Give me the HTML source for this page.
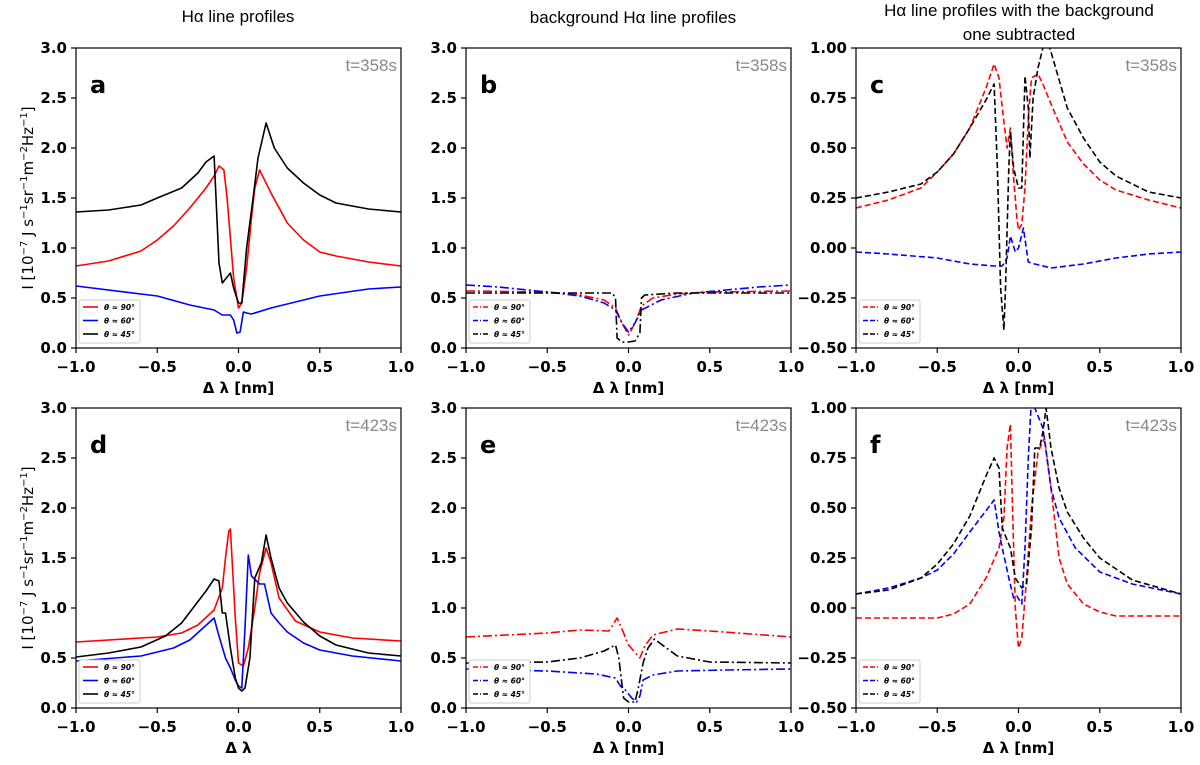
<!DOCTYPE html>
<html><head><meta charset="utf-8">
<style>
body{margin:0;background:#fff;}
svg text{font-family:"DejaVu Sans","Liberation Sans",sans-serif;}
</style></head>
<body>
<svg id="fig" width="1200" height="760" viewBox="0 0 1200 760" xmlns="http://www.w3.org/2000/svg">
<text x="238" y="22" text-anchor="middle" font-size="17" style="font-family:'Liberation Sans',sans-serif">Hα line profiles</text>
<text x="633" y="23" text-anchor="middle" font-size="17" style="font-family:'Liberation Sans',sans-serif">background Hα line profiles</text>
<text x="1019" y="16" text-anchor="middle" font-size="17" style="font-family:'Liberation Sans',sans-serif">Hα line profiles with the background</text>
<text x="1019" y="40" text-anchor="middle" font-size="17" style="font-family:'Liberation Sans',sans-serif">one subtracted</text>
</svg>
<script>
// ---- data: panel a ----
const aRedX=[-1,-0.8,-0.6,-0.5,-0.4,-0.3,-0.2,-0.15,-0.12,-0.09,-0.07,-0.05,-0.03,0,0.02,0.05,0.08,0.1,0.13,0.2,0.3,0.4,0.5,0.6,0.8,1];
const aRedY=[0.82,0.87,0.97,1.08,1.22,1.4,1.6,1.72,1.82,1.78,1.5,1.1,0.7,0.4,0.45,0.8,1.3,1.6,1.78,1.55,1.25,1.08,0.96,0.92,0.86,0.82];
const aBluX=[-1,-0.5,-0.3,-0.15,-0.1,-0.05,-0.03,-0.01,0.01,0.03,0.05,0.08,0.2,0.5,0.8,1];
const aBluY=[0.62,0.52,0.43,0.38,0.33,0.33,0.28,0.15,0.16,0.36,0.35,0.34,0.4,0.52,0.59,0.61];
const aBlkX=[-1,-0.8,-0.6,-0.5,-0.35,-0.25,-0.2,-0.15,-0.12,-0.1,-0.05,-0.03,0,0.02,0.05,0.09,0.12,0.17,0.22,0.3,0.4,0.5,0.6,0.8,1];
const aBlkY=[1.36,1.38,1.43,1.5,1.6,1.75,1.86,1.92,0.85,0.65,0.75,0.6,0.45,0.45,1.0,1.5,1.9,2.25,2.0,1.8,1.65,1.53,1.45,1.39,1.36];
// ---- panel b ----
const bRedX=[-1,-0.5,-0.3,-0.15,-0.08,-0.04,0,0.04,0.08,0.15,0.3,0.5,1];
const bRedY=[0.57,0.56,0.53,0.48,0.4,0.25,0.13,0.25,0.42,0.5,0.54,0.56,0.57];
const bBluX=[-1,-0.8,-0.5,-0.3,-0.15,-0.08,-0.04,0,0.04,0.08,0.2,0.4,0.6,0.8,1];
const bBluY=[0.63,0.61,0.56,0.52,0.45,0.38,0.25,0.16,0.25,0.38,0.48,0.55,0.58,0.61,0.63];
const bBlkX=[-1,-0.5,-0.1,-0.08,-0.07,-0.04,0,0.04,0.07,0.08,0.1,0.3,1];
const bBlkY=[0.55,0.55,0.55,0.5,0.1,0.06,0.06,0.07,0.15,0.5,0.53,0.55,0.55];
// ---- panel c ----
const cRedX=[-1,-0.8,-0.6,-0.5,-0.4,-0.3,-0.2,-0.15,-0.12,-0.1,-0.07,-0.05,-0.03,-0.01,0,0.02,0.04,0.06,0.08,0.12,0.15,0.2,0.3,0.4,0.5,0.6,0.8,1];
const cRedY=[0.2,0.24,0.3,0.38,0.47,0.6,0.8,0.92,0.85,0.7,0.5,0.6,0.35,0.15,0.09,0.12,0.3,0.65,0.85,0.87,0.82,0.72,0.53,0.42,0.34,0.29,0.24,0.2];
const cBluX=[-1,-0.8,-0.5,-0.3,-0.15,-0.1,-0.07,-0.05,-0.02,0,0.03,0.06,0.1,0.2,0.4,0.6,0.8,1];
const cBluY=[-0.02,-0.03,-0.05,-0.08,-0.09,-0.09,-0.05,0.06,-0.02,0,0.1,-0.07,-0.08,-0.1,-0.08,-0.05,-0.03,-0.02];
const cBlkX=[-1,-0.8,-0.6,-0.5,-0.4,-0.3,-0.2,-0.15,-0.13,-0.11,-0.09,-0.08,-0.06,-0.05,-0.03,0,0.02,0.04,0.06,0.07,0.09,0.12,0.15,0.18,0.2,0.3,0.4,0.5,0.6,0.8,1];
const cBlkY=[0.25,0.28,0.32,0.38,0.47,0.6,0.74,0.82,0.4,-0.2,-0.41,-0.2,0.4,0.58,0.4,0.3,0.3,0.86,0.7,0.45,0.75,0.9,1.0,1.02,0.98,0.7,0.55,0.43,0.36,0.28,0.25];
// ---- panel d ----
const dRedX=[-1,-0.5,-0.35,-0.25,-0.15,-0.1,-0.08,-0.06,-0.05,-0.04,-0.02,0,0.03,0.06,0.1,0.13,0.17,0.2,0.25,0.35,0.5,0.7,1];
const dRedY=[0.66,0.71,0.75,0.83,0.98,1.2,1.5,1.77,1.79,1.5,0.9,0.45,0.42,0.6,1.0,1.35,1.6,1.45,1.1,0.87,0.76,0.7,0.67];
const dBluX=[-1,-0.6,-0.4,-0.3,-0.15,-0.12,-0.08,-0.05,-0.02,0,0.02,0.04,0.06,0.08,0.13,0.16,0.2,0.25,0.3,0.4,0.5,0.7,1];
const dBluY=[0.47,0.52,0.6,0.68,0.9,0.72,0.5,0.4,0.28,0.22,0.2,0.8,1.53,1.32,1.24,1.24,0.95,0.85,0.76,0.65,0.58,0.52,0.47];
const dBlkX=[-1,-0.8,-0.6,-0.45,-0.35,-0.2,-0.15,-0.12,-0.1,-0.08,-0.05,-0.02,0,0.02,0.04,0.07,0.1,0.14,0.17,0.2,0.25,0.3,0.4,0.5,0.6,0.8,1];
const dBlkY=[0.51,0.55,0.61,0.72,0.85,1.17,1.29,1.27,0.95,0.95,0.6,0.3,0.2,0.17,0.2,0.5,1.3,1.45,1.73,1.5,1.2,1.05,0.86,0.72,0.63,0.55,0.52];
// ---- panel e ----
const eRedX=[-1,-0.5,-0.3,-0.12,-0.07,-0.03,0,0.07,0.1,0.15,0.3,0.5,1];
const eRedY=[0.71,0.75,0.78,0.77,0.9,0.75,0.63,0.5,0.62,0.73,0.79,0.77,0.71];
const eBluX=[-1,-0.5,-0.2,-0.08,-0.05,-0.02,0.02,0.05,0.07,0.09,0.15,0.3,0.6,1];
const eBluY=[0.39,0.37,0.34,0.3,0.22,0.18,0.1,0.06,0.12,0.28,0.33,0.37,0.38,0.39];
const eBlkX=[-1,-0.5,-0.3,-0.15,-0.08,-0.06,-0.03,0,0.04,0.06,0.09,0.12,0.16,0.2,0.3,0.5,1];
const eBlkY=[0.45,0.46,0.5,0.57,0.63,0.5,0.1,0.06,0.06,0.2,0.45,0.6,0.69,0.64,0.52,0.46,0.45];
// ---- panel f ----
const fRedX=[-1,-0.5,-0.4,-0.3,-0.2,-0.12,-0.09,-0.07,-0.05,-0.04,-0.02,0,0.02,0.05,0.08,0.12,0.16,0.2,0.25,0.3,0.4,0.5,0.6,1];
const fRedY=[-0.05,-0.05,-0.03,0.02,0.15,0.3,0.45,0.8,0.92,0.6,0.0,-0.2,-0.15,0.15,0.5,0.78,0.85,0.6,0.25,0.12,0.02,-0.02,-0.04,-0.04];
const fBluX=[-1,-0.8,-0.6,-0.5,-0.4,-0.3,-0.15,-0.12,-0.1,-0.06,-0.03,-0.01,0.02,0.04,0.06,0.08,0.1,0.15,0.2,0.25,0.35,0.5,0.7,1];
const fBluY=[0.07,0.1,0.15,0.19,0.27,0.38,0.54,0.38,0.3,0.15,0.05,0.06,0.02,0.3,0.75,1.05,1.0,0.9,0.6,0.45,0.3,0.18,0.12,0.07];
const fBlkX=[-1,-0.8,-0.6,-0.5,-0.4,-0.3,-0.2,-0.15,-0.12,-0.1,-0.08,-0.05,-0.02,0.02,0.05,0.08,0.1,0.13,0.15,0.17,0.2,0.25,0.3,0.4,0.5,0.7,1];
const fBlkY=[0.07,0.09,0.15,0.22,0.32,0.46,0.66,0.75,0.7,0.4,0.36,0.3,0.15,0.1,0.12,0.4,0.8,0.8,0.88,1.0,0.8,0.6,0.48,0.35,0.25,0.14,0.07];

const xTicks=[-1,-0.5,0,0.5,1];
const xTickLabels=["−1.0","−0.5","0.0","0.5","1.0"];
const yTicksI=[0,0.5,1,1.5,2,2.5,3];
const yTickLabelsI=["0.0","0.5","1.0","1.5","2.0","2.5","3.0"];
const yTicksS=[-0.5,-0.25,0,0.25,0.5,0.75,1];
const yTickLabelsS=["−0.50","−0.25","0.00","0.25","0.50","0.75","1.00"];
const legendLabels=["θ ≈ 90°","θ ≈ 60°","θ ≈ 45°"];

const NS="http://www.w3.org/2000/svg";
const svg=document.getElementById('fig');
function mk(tag,attrs,parent){const e=document.createElementNS(NS,tag);for(const k in attrs)e.setAttribute(k,attrs[k]);(parent||svg).appendChild(e);return e;}

const panels=[
 {id:'a',L:76,T:48,ymin:0,ymax:3,yt:yTicksI,yl:yTickLabelsI,time:'t=358s',dash:null,xlab:'Δ λ [nm]',ylab:true,
  series:[[aRedX,aRedY,'#ff0000'],[aBluX,aBluY,'#0000ff'],[aBlkX,aBlkY,'#000000']]},
 {id:'b',L:466,T:48,ymin:0,ymax:3,yt:yTicksI,yl:yTickLabelsI,time:'t=358s',dash:'9,3,2,3',xlab:'Δ λ [nm]',ylab:false,
  series:[[bRedX,bRedY,'#ff0000'],[bBluX,bBluY,'#0000ff'],[bBlkX,bBlkY,'#000000']]},
 {id:'c',L:856,T:48,ymin:-0.5,ymax:1,yt:yTicksS,yl:yTickLabelsS,time:'t=358s',dash:'6,3',xlab:'Δ λ [nm]',ylab:false,
  series:[[cRedX,cRedY,'#ff0000'],[cBluX,cBluY,'#0000ff'],[cBlkX,cBlkY,'#000000']]},
 {id:'d',L:76,T:408,ymin:0,ymax:3,yt:yTicksI,yl:yTickLabelsI,time:'t=423s',dash:null,xlab:'Δ λ',ylab:true,
  series:[[dRedX,dRedY,'#ff0000'],[dBluX,dBluY,'#0000ff'],[dBlkX,dBlkY,'#000000']]},
 {id:'e',L:466,T:408,ymin:0,ymax:3,yt:yTicksI,yl:yTickLabelsI,time:'t=423s',dash:'9,3,2,3',xlab:'Δ λ [nm]',ylab:false,
  series:[[eRedX,eRedY,'#ff0000'],[eBluX,eBluY,'#0000ff'],[eBlkX,eBlkY,'#000000']]},
 {id:'f',L:856,T:408,ymin:-0.5,ymax:1,yt:yTicksS,yl:yTickLabelsS,time:'t=423s',dash:'6,3',xlab:'Δ λ [nm]',ylab:false,
  series:[[fRedX,fRedY,'#ff0000'],[fBluX,fBluY,'#0000ff'],[fBlkX,fBlkY,'#000000']]}
];
const W=325,H=300;
const seriesNames=['theta-90','theta-60','theta-45'];
const defs=mk('defs',{});
panels.forEach(p=>{
  const g=mk('g',{});
  
  
  const sx=v=>p.L+(v+1)/2*W;
  const sy=v=>p.T+H-(v-p.ymin)/(p.ymax-p.ymin)*H;
  const cp=mk('clipPath',{id:'clip'+p.id},defs);
  mk('rect',{x:p.L,y:p.T,width:W,height:H},cp);
  p.series.forEach((s,i)=>{
    const d=s[0].map((x,k)=>(k?'L':'M')+sx(x).toFixed(1)+','+sy(s[1][k]).toFixed(1)).join(' ');
    const path=mk('path',{d:d,fill:'none',stroke:s[2],'stroke-width':1.6,'stroke-linejoin':'round','clip-path':'url(#clip'+p.id+')'},g);
    if(p.dash)path.setAttribute('stroke-dasharray',p.dash);
    
    
  });
  const fr=mk('rect',{x:p.L,y:p.T,width:W,height:H,fill:'none',stroke:'#000','stroke-width':1.2},g);
  
  
  xTicks.forEach((t,i)=>{
    mk('line',{x1:sx(t),x2:sx(t),y1:p.T+H,y2:p.T+H+5,stroke:'#000','stroke-width':1.2},g);
    const tx=mk('text',{x:sx(t),y:p.T+H+24,'text-anchor':'middle','font-size':15,'font-weight':'bold'},g);
    tx.textContent=xTickLabels[i];
    
    
  });
  p.yt.forEach((t,i)=>{
    mk('line',{x1:p.L-5,x2:p.L,y1:sy(t),y2:sy(t),stroke:'#000','stroke-width':1.2},g);
    const tx=mk('text',{x:p.L-9,y:sy(t)+5,'text-anchor':'end','font-size':15,'font-weight':'bold'},g);
    tx.textContent=p.yl[i];
    
    
  });
  const xl=mk('text',{x:p.L+W/2,y:p.T+H+45,'text-anchor':'middle','font-size':15,'font-weight':'bold'},g);
  xl.textContent=p.xlab;
  
  
  if(p.ylab){
    const yl=mk('text',{x:0,y:0,'text-anchor':'middle','font-size':15,transform:'translate(33,'+(p.T+H/2)+') rotate(-90)'},g);
    yl.innerHTML='I [10<tspan dy="-6" font-size="10">−7</tspan><tspan dy="6"> J s</tspan><tspan dy="-6" font-size="10">−1</tspan><tspan dy="6">sr</tspan><tspan dy="-6" font-size="10">−1</tspan><tspan dy="6">m</tspan><tspan dy="-6" font-size="10">−2</tspan><tspan dy="6">Hz</tspan><tspan dy="-6" font-size="10">−1</tspan><tspan dy="6">]</tspan>';
    
    
  }
  const lt=mk('text',{x:p.L+14,y:p.T+45,'font-size':24,'font-weight':'bold'},g);
  lt.textContent=p.id;
  
  
  const tt=mk('text',{x:p.L+W-4,y:p.T+23,'text-anchor':'end','font-size':17,fill:'#888'},g);
  tt.setAttribute('style',"font-family:'Liberation Sans',sans-serif;font-weight:300");
  tt.textContent=p.time;
  
  
  const lg=mk('g',{},g);
  
  
  mk('rect',{x:p.L+3,y:p.T+H-48,width:61,height:43,fill:'#fff',stroke:'#ccc','stroke-width':1,rx:2},lg);
  p.series.forEach((s,i)=>{
    const y=p.T+H-41+i*13.5;
    const ln=mk('line',{x1:p.L+7,x2:p.L+22,y1:y,y2:y,stroke:s[2],'stroke-width':1.6},lg);
    if(p.dash)ln.setAttribute('stroke-dasharray',p.dash==='6,3'?'5,2':'5,2,1,2');
    
    
    const tx=mk('text',{x:p.L+28,y:y+3,'font-size':7.5,'font-weight':'bold','font-style':'italic'},lg);
    tx.textContent=legendLabels[i];
    
    
  });
});
</script>
</body></html>
